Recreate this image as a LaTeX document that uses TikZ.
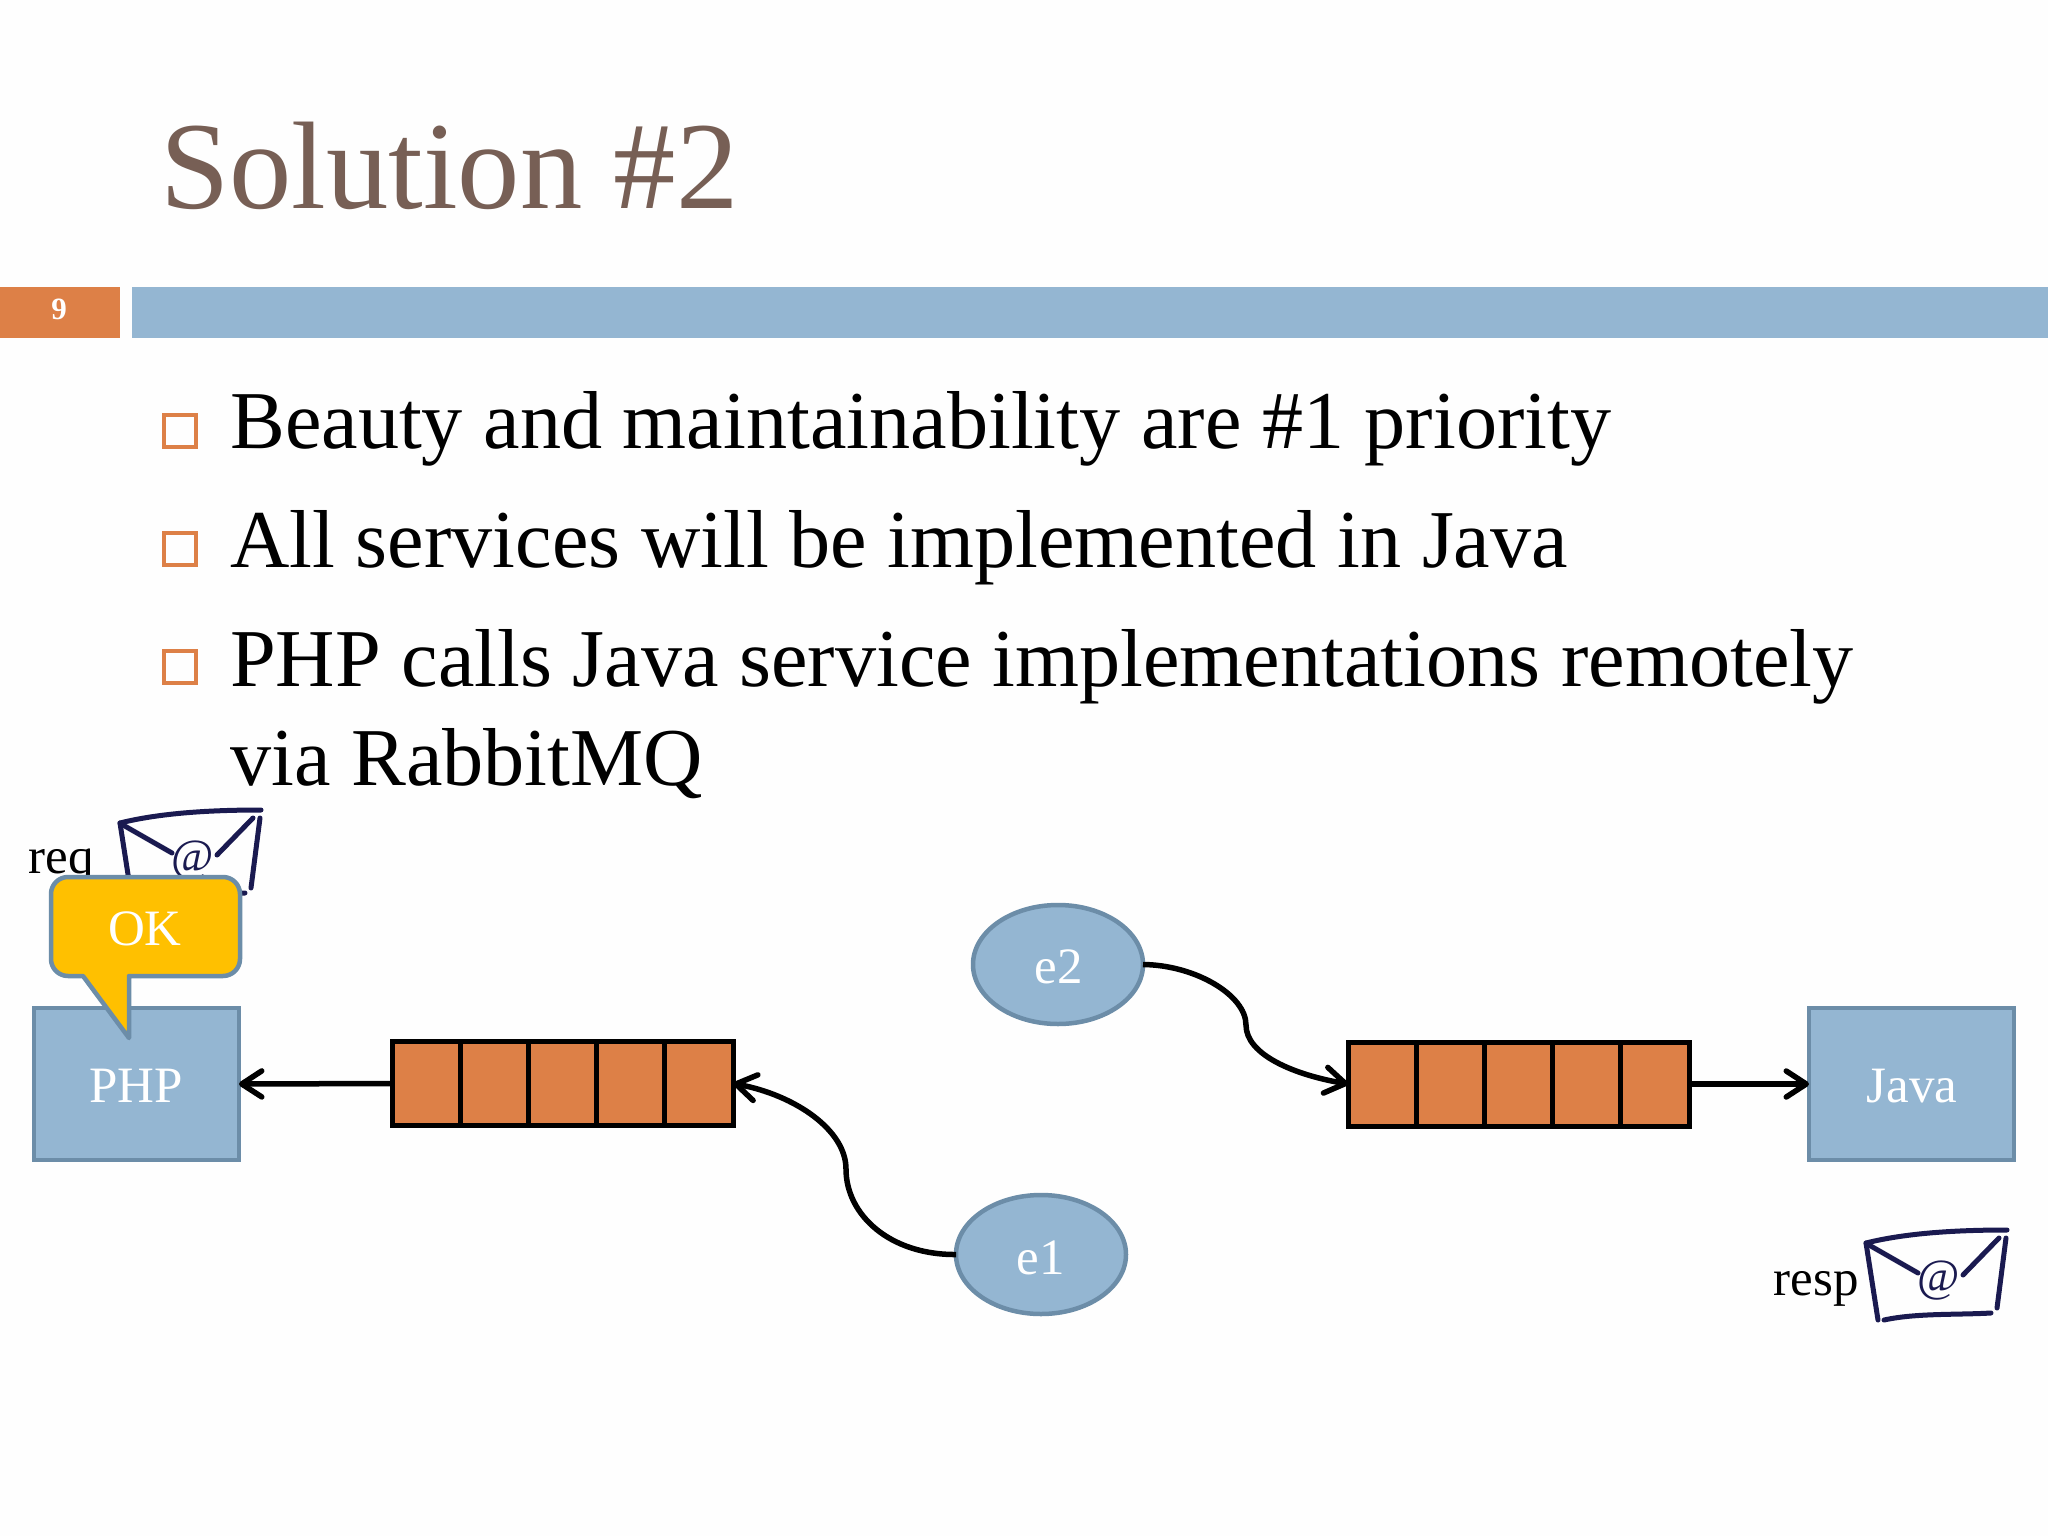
\documentclass[tikz,border=0pt]{standalone}
\usepackage{fontspec}
\setmainfont{Liberation Serif}
\usetikzlibrary{arrows.meta,shapes.geometric,calc}
\definecolor{bluefill}{HTML}{94B6D2}
\definecolor{blueline}{HTML}{6C8DA8}
\definecolor{orangefill}{HTML}{DD8047}
\definecolor{titlecol}{HTML}{775F55}
\definecolor{calloutfill}{HTML}{FFC000}
\definecolor{envink}{HTML}{1A1A50}
\definecolor{pagecol}{HTML}{FEFEFE}
\tikzset{
  titletext/.style={anchor=base west,inner sep=0pt,text=titlecol,font=\fontsize{124.6}{124.6}\selectfont},
  bodytext/.style={anchor=base west,inner sep=0pt,text=black,font=\fontsize{82.2}{82.2}\selectfont},
  smalltext/.style={anchor=base,inner sep=0pt,text=black,font=\fontsize{51}{51}\selectfont},
  whitetext/.style={anchor=base,inner sep=0pt,text=white,font=\fontsize{51}{51}\selectfont},
  bulletbox/.style={draw=orangefill,line width=3.5pt,fill=none,minimum size=32pt,inner sep=0pt,outer sep=0pt},
  service/.style={draw=blueline,line width=4.5pt,fill=bluefill,minimum width=205pt,minimum height=152pt,inner sep=0pt,outer sep=0pt},
  event/.style={ellipse,draw=blueline,line width=4.5pt,fill=bluefill,minimum width=170pt,minimum height=119pt,inner sep=0pt,outer sep=0pt},
  cell/.style={draw=black,line width=5pt,fill=orangefill,minimum width=68.2pt,minimum height=84pt,inner sep=0pt,outer sep=0pt},
  conn/.style={draw=black,line width=5.5pt,-{Straight Barb[length=20pt,width=26pt,line width=5.5pt,round]}},
  envstroke/.style={draw=envink,line width=5pt,line cap=round},
  pics/envelope/.style={code={
    \draw[envstroke] (0,0) .. controls (40,-10) and (90,-13) .. (141,-13);
    \draw[envstroke] (0,0) -- (12,77);
    \draw[envstroke] (18,77) .. controls (50,70) and (90,72) .. (125,70);
    \draw[envstroke] (140,-5) -- (131,65);
    \draw[envstroke] (3,2) -- (52,30);
    \draw[envstroke] (97,32) -- (133,-5);
    \node[inner sep=0pt,text=envink,font=\fontsize{46}{46}\selectfont] (-at) at (73,38) {@};
  }}
}
\begin{document}
\begin{tikzpicture}[x=1pt,y=-1pt]
\useasboundingbox (0,0) rectangle (2048,1536);
\fill[pagecol] (0,0) rectangle (2048,1536);

% header
\node[titletext] (title) at (160,208) {Solution \#2};
\fill[orangefill] (0,287) rectangle (120,338);
\fill[bluefill] (132,287) rectangle (2048,338);
\node[inner sep=0pt,anchor=base,text=white,font=\fontsize{31}{31}\selectfont\bfseries] (pageno) at (59,319) {9};

% bullets
\node[bulletbox] (b1) at (180,431) {};
\node[bulletbox] (b2) at (180,549) {};
\node[bulletbox] (b3) at (180,667) {};
\node[bodytext] (t1) at (230,448.5) {Beauty and maintainability are \#1 priority};
\node[bodytext] (t2) at (230,567.5) {All services will be implemented in Java};
\node[bodytext] (t3) at (230,686.5) {PHP calls Java service implementations remotely};
\node[bodytext] (t4) at (230,785.5) {via RabbitMQ};

% envelopes and labels
\pic (envreq) at (120,823) {envelope};
\pic (envresp) at (1866,1243) {envelope};
\node[smalltext] (req) at (61,873) {req};
\node[smalltext] (resp) at (1816,1295) {resp};

% services
\node[service] (php) at (136.5,1084) {};
\node[service] (java) at (1911.5,1084) {};
\node[whitetext] (phpl) at (136,1102) {PHP};
\node[whitetext] (javal) at (1912,1102) {Java};

% callout
\draw[draw=blueline,line width=4.5pt,fill=calloutfill,line join=round]
  (68,877) -- (223,877) arc[start angle=-90,end angle=0,radius=17] -- (240,959)
  arc[start angle=0,end angle=90,radius=17] -- (129,976) -- (129,1038) -- (83,976) -- (68,976)
  arc[start angle=90,end angle=180,radius=17] -- (51,894)
  arc[start angle=180,end angle=270,radius=17] -- cycle;
\node[whitetext] (ok) at (145,945) {OK};

% queues
\node[cell] (qa1) at (426.2,1083.5) {};
\node[cell] (qa2) at (494.4,1083.5) {};
\node[cell] (qa3) at (562.6,1083.5) {};
\node[cell] (qa4) at (630.8,1083.5) {};
\node[cell] (qa5) at (699,1083.5) {};
\node[cell] (qb1) at (1382.2,1084) {};
\node[cell] (qb2) at (1450.4,1084) {};
\node[cell] (qb3) at (1518.6,1084) {};
\node[cell] (qb4) at (1586.8,1084) {};
\node[cell] (qb5) at (1655,1084) {};

% events
\node[event] (e2) at (1058,964.5) {};
\node[event] (e1) at (1041,1254.5) {};
\node[whitetext] (e2l) at (1058.5,983) {e2};
\node[whitetext] (e1l) at (1040.5,1274) {e1};

% connectors
\draw[conn] (qa1.west) -- (php.east);
\draw[conn] (qb5.east) -- (java.west);
\draw[conn] (e1.west) .. controls (890,1255) and (846,1215) .. (846,1169)
  .. controls (846,1130) and (795,1095) .. (qa5.east);
\draw[conn] (e2.east) .. controls (1195,965) and (1246,995) .. (1246,1025)
  .. controls (1246,1055) and (1295,1075) .. (qb1.west);
\end{tikzpicture}
\end{document}
